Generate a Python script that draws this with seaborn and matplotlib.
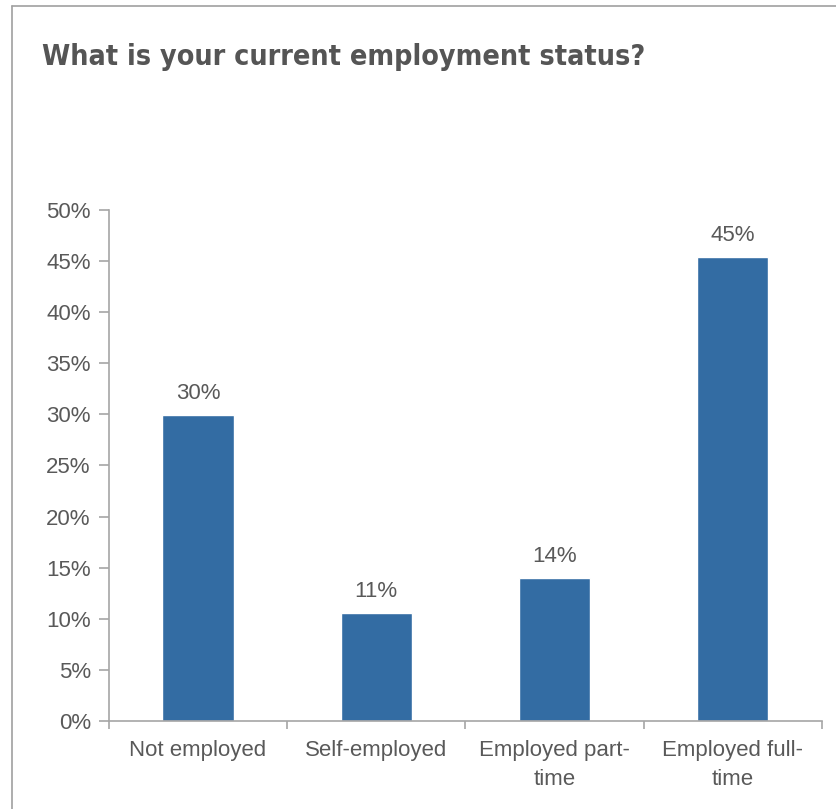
import matplotlib
matplotlib.use("Agg")
import matplotlib.pyplot as plt
import seaborn as sns
import pandas as pd
from matplotlib.lines import Line2D
from matplotlib.ticker import FuncFormatter, MultipleLocator

categories = ["Not employed", "Self-employed", "Employed part-\ntime", "Employed full-\ntime"]
values = [29.9, 10.6, 14.0, 45.4]
labels = ["30%", "11%", "14%", "45%"]

sns.set_theme(style="white")
plt.rcParams['font.family'] = ['Liberation Sans', 'DejaVu Sans']

text_color = "#595959"
bar_color = "#336ca3"
spine_color = "#a6a6a6"
fs = 16

fig = plt.figure(figsize=(8.37, 8.09), dpi=100)
ax = fig.add_axes([0.130, 0.1088, 0.852, 0.6316])

df = pd.DataFrame({"cat": categories, "val": values})
sns.barplot(data=df, x="cat", y="val", order=categories, color=bar_color,
            width=0.4, saturation=1, ax=ax)

ax.set_xlim(-0.5, 3.5)
ax.set_ylim(0, 50)
ax.yaxis.set_major_locator(MultipleLocator(5))
ax.yaxis.set_major_formatter(FuncFormatter(lambda v, p: f"{int(round(v))}%"))
ax.set_xlabel("")
ax.set_ylabel("")

for s in ["top", "right"]:
    ax.spines[s].set_visible(False)
for s in ["left", "bottom"]:
    ax.spines[s].set_color(spine_color)
    ax.spines[s].set_linewidth(1.2)

ax.set_xticks([-0.5, 0.5, 1.5, 2.5, 3.5], minor=False)
ax.set_xticklabels([])
ax.set_xticks([0, 1, 2, 3], minor=True)
ax.set_xticklabels(categories, minor=True)
ax.tick_params(axis="x", which="major", direction="out", length=6, width=1.2,
               color=spine_color, bottom=True)
ax.tick_params(axis="x", which="minor", length=0, pad=14, labelsize=fs,
               labelcolor=text_color)
ax.tick_params(axis="y", direction="out", length=7, width=1.2, color=spine_color,
               left=True, labelsize=fs, labelcolor=text_color, pad=6)
for t in ax.get_xticklabels(minor=True):
    t.set_linespacing(1.5)

for i, (v, lab) in enumerate(zip(values, labels)):
    ax.annotate(lab, (i, v), xytext=(0, 8), textcoords="offset points",
                ha="center", va="bottom", fontsize=fs, color=text_color)

fig.text(0.050, 0.929, "What is your current employment status?",
         fontsize=20.5, fontweight="bold", fontstretch="condensed",
         color="#555555", va="center", ha="left",
         family=['DejaVu Sans'])

fig.add_artist(Line2D([12/837, 12/837], [0, 1 - 6/809], transform=fig.transFigure,
                      color="#a0a0a0", linewidth=1.2))
fig.add_artist(Line2D([12/837, 1], [1 - 6/809, 1 - 6/809], transform=fig.transFigure,
                      color="#a0a0a0", linewidth=1.2))

fig.savefig("out.png", dpi=100)
